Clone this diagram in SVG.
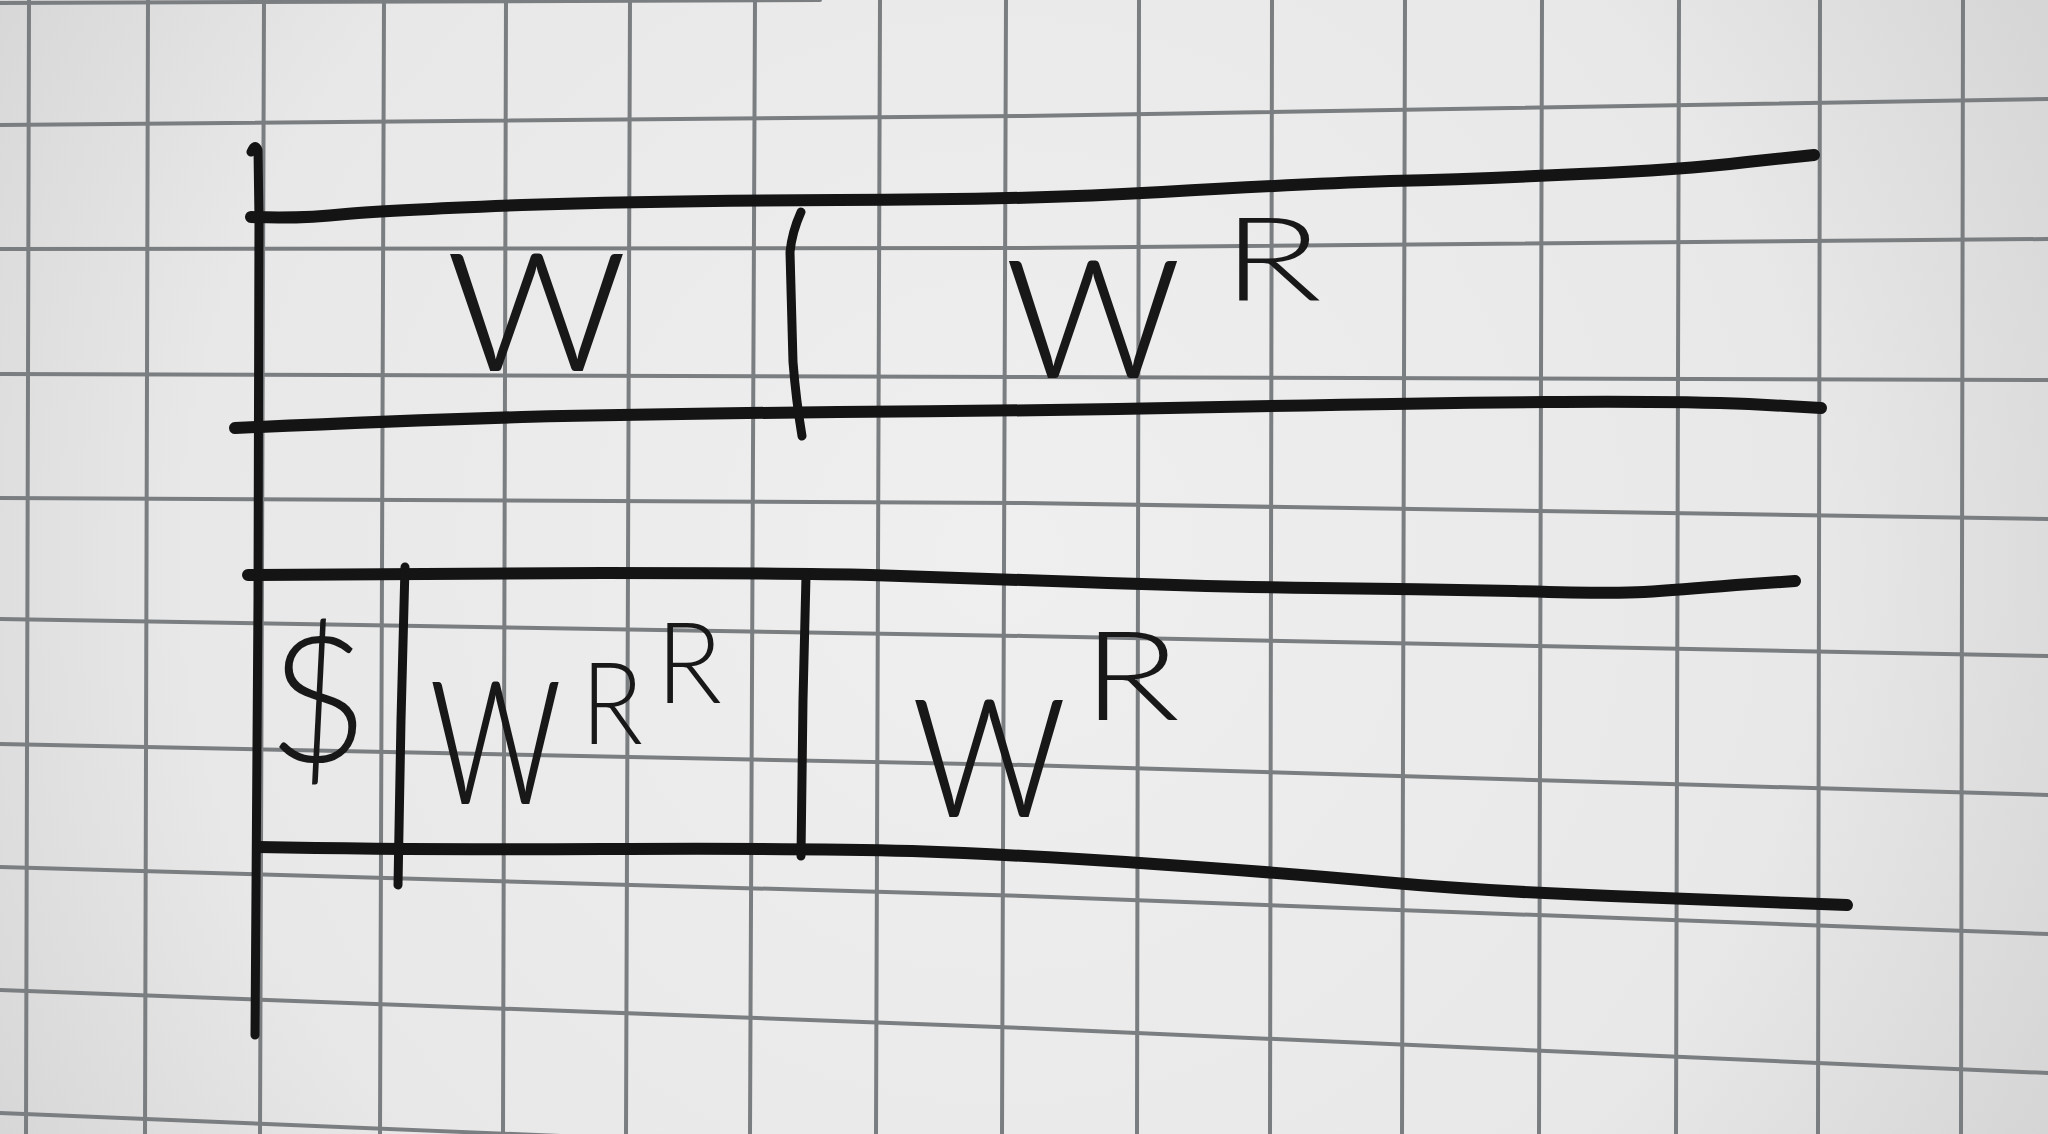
<svg xmlns="http://www.w3.org/2000/svg" width="2048" height="1134" viewBox="0 0 2048 1134">
<defs>
<radialGradient id="paper" cx="1000" cy="560" r="1250" gradientUnits="userSpaceOnUse">
<stop offset="0" stop-color="#efefef"/>
<stop offset="0.65" stop-color="#e8e8e8"/>
<stop offset="1" stop-color="#d2d2d2"/>
</radialGradient>
<style>
.grid{fill:none;stroke:#7b7e81;stroke-width:4;stroke-linecap:round}
.ink{fill:none;stroke:#141414;stroke-width:12;stroke-linecap:round;stroke-linejoin:round}
.ink-v{fill:none;stroke:#141414;stroke-width:9;stroke-linecap:round;stroke-linejoin:round}
.hw{font-family:"Lato","Roboto","DejaVu Sans",sans-serif;font-weight:300;fill:#181818}
</style>
</defs>
<rect x="0" y="0" width="2048" height="1134" fill="url(#paper)"/>
<g id="grid-paper" class="grid">
<path d="M0 3 L820 0"/>
<path d="M0 125 L1024 116 L2048 99"/>
<path d="M0 249 L1024 248 L2048 239"/>
<path d="M0 374 L1024 377 L2048 380"/>
<path d="M0 498 L1024 503 L2048 519"/>
<path d="M0 619 L1024 636 L2048 656"/>
<path d="M0 744 L1024 765 L2048 795"/>
<path d="M0 867 L1024 896 L2048 934"/>
<path d="M0 990 L1024 1028 L2048 1073"/>
<path d="M0 1113 L1024 1155"/>
<path d="M29 0 L26 1134"/>
<path d="M148 0 L145 1134"/>
<path d="M264 0 L260 1134"/>
<path d="M384 0 L380 1134"/>
<path d="M506 0 L503 1134"/>
<path d="M630 0 L626 1134"/>
<path d="M755 0 L750 1134"/>
<path d="M880 0 L876 1134"/>
<path d="M1006 0 L1002 1134"/>
<path d="M1139 0 L1137 1134"/>
<path d="M1272 0 L1270 1134"/>
<path d="M1405 0 L1402 1134"/>
<path d="M1542 0 L1539 1134"/>
<path d="M1679 0 L1676 1134"/>
<path d="M1820 0 L1818 1134"/>
<path d="M1963 0 L1961 1134"/>
</g>
<g id="connectors">
<path class="ink-v" d="M251 152 Q255 142 258 150 L259 220 L258 600 L255 1035"/>
<path class="ink" d="M251 217 Q300 219 346 214 Q392 210 522 205 Q653 201 838 200 Q1024 200 1162 192 Q1300 184 1390 181 Q1480 179 1580 174 Q1680 170 1747 162 L1814 155"/>
<path class="ink" d="M235 428 Q392 421 522 417 Q653 414 838 412 Q1024 411 1220 407 Q1416 403 1546 402 Q1677 401 1749 404 L1821 408"/>
<path class="ink" d="M248 575 Q405 574 603 573 Q801 573 871 575 Q942 577 1081 582 Q1220 587 1318 588 Q1416 589 1514 591 Q1612 594 1644 592 Q1677 590 1736 585 L1795 581"/>
<path class="ink" d="M258 847 Q406 850 603 849 Q801 848 912 851 Q1024 855 1154 864 Q1285 873 1383 882 Q1481 891 1611 896 Q1742 901 1794 903 L1847 905"/>
<path class="ink-v" d="M801 212 Q792 232 790 252 L793 362 Q796 400 802 436"/>
<path class="ink-v" d="M405 567 L401 720 L398 885"/>
<path class="ink-v" d="M806 576 L803 700 L801 856"/>
</g>
<g id="cell-w">
<text class="hw" x="444" y="371" font-size="235" textLength="185" lengthAdjust="spacingAndGlyphs">w</text>
</g>
<g id="cell-wR-top">
<text class="hw" x="1003" y="378" font-size="235" textLength="180" lengthAdjust="spacingAndGlyphs">w</text>
<text class="hw" x="1222" y="300" font-size="116" textLength="100" lengthAdjust="spacingAndGlyphs">R</text>
</g>
<g id="cell-dollar">
<text class="hw" x="318" y="762" font-size="175" text-anchor="middle">$</text>
</g>
<g id="cell-wRR">
<text class="hw" x="428" y="804" font-size="195" textLength="135" lengthAdjust="spacingAndGlyphs" transform="matrix(1 0 0 1.256 0 -205.8)">w</text>
<text class="hw" x="581" y="744" font-size="114" textLength="62" lengthAdjust="spacingAndGlyphs">R</text>
<text class="hw" x="656" y="703" font-size="112" textLength="66" lengthAdjust="spacingAndGlyphs">R</text>
</g>
<g id="cell-wR-bottom">
<text class="hw" x="910" y="817" font-size="212" textLength="158" lengthAdjust="spacingAndGlyphs" transform="matrix(1 0 0 1.108 0 -88.2)">w</text>
<text class="hw" x="1082" y="720" font-size="125" textLength="98" lengthAdjust="spacingAndGlyphs">R</text>
</g>
</svg>
